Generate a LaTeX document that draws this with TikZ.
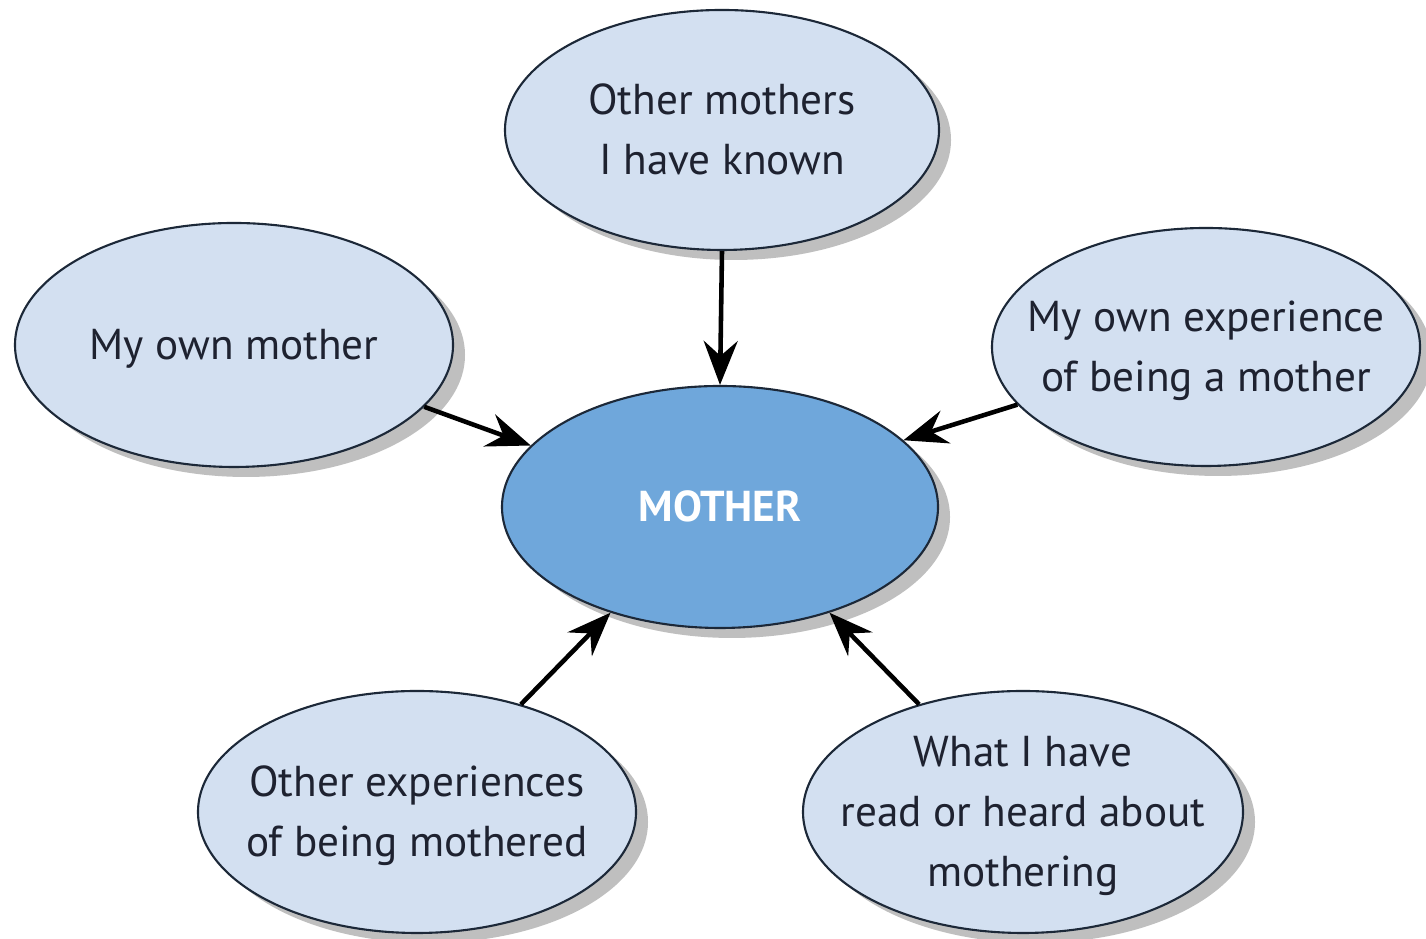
\documentclass[tikz,border=0pt]{standalone}
\usepackage{fontspec}
\setmainfont{PT Sans}
\usetikzlibrary{shapes.geometric,shadows,arrows.meta}
\definecolor{lightfill}{HTML}{D3E0F1}
\definecolor{darkfill}{HTML}{6FA7DB}
\definecolor{edge}{HTML}{1C2838}
\definecolor{txt}{HTML}{1E2230}
\newcommand{\bubtext}[1]{\smash{\makebox[0pt]{\raisebox{-0.13cm}{\begin{tabular}{@{}c@{}}#1\end{tabular}}}}}
\tikzset{
  bubble/.style={ellipse, draw=edge, line width=0.6pt, fill=lightfill, inner sep=0pt,
    text=txt, font=\fontsize{12.3}{17}\selectfont,
    drop shadow={shadow xshift=0.12cm, shadow yshift=-0.1cm, fill=black!45, opacity=0.55}},
  hub/.style={bubble, fill=darkfill, text=white, font=\fontsize{12.3}{17}\selectfont\bfseries},
  link/.style={line width=1.3pt, -{Stealth[length=4.4mm, width=3.4mm, inset=1.5mm]}}
}
\begin{document}
\begin{tikzpicture}
\fill[white] (0,0) rectangle (14.26,9.39);
\useasboundingbox (0,0) rectangle (14.26,9.39);
\node[hub, minimum width=4.36cm, minimum height=2.42cm] (mother) at (7.20,4.32) {\bubtext{MOTHER}};
\node[bubble, minimum width=4.34cm, minimum height=2.40cm] (top) at (7.22,8.09) {\bubtext{Other mothers\\I have known}};
\node[bubble, minimum width=4.38cm, minimum height=2.44cm] (left) at (2.34,5.94) {\bubtext{My own mother}};
\node[bubble, minimum width=4.28cm, minimum height=2.38cm] (right) at (12.06,5.92) {\bubtext{My own experience\\of being a mother}};
\node[bubble, minimum width=4.38cm, minimum height=2.42cm] (bl) at (4.17,1.27) {\bubtext{Other experiences\\of being mothered}};
\node[bubble, minimum width=4.40cm, minimum height=2.42cm] (br) at (10.23,1.27) {\bubtext{What I have\\read or heard about\\mothering}};
\draw[link] (top.-90) -- (mother.90);
\draw[link] (left.-18) -- (mother.162);
\draw[link] (right.197) -- (mother.20);
\draw[link] (bl.46) -- (mother.-136);
\draw[link] (br.134) -- (mother.-44);
\end{tikzpicture}
\end{document}
